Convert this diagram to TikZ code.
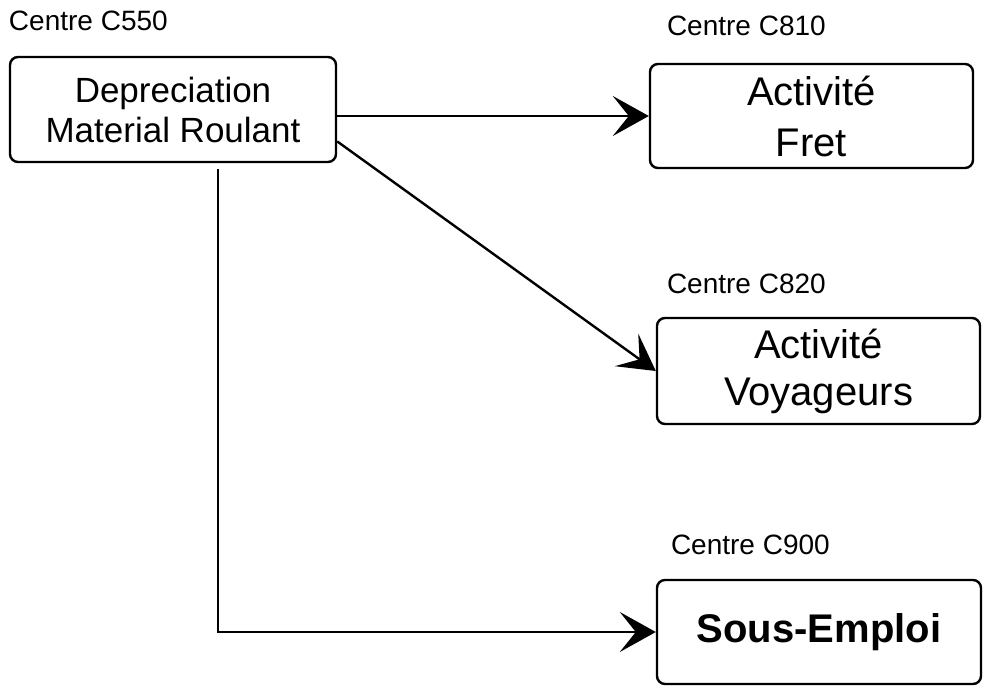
\documentclass[tikz,border=0pt]{standalone}
\usepackage{fontspec}
\setmainfont{Liberation Sans}
\usetikzlibrary{positioning}
\usetikzlibrary{arrows.meta}

\begin{document}
\begin{tikzpicture}[x=1pt, y=-1pt,
	centrebox/.style={draw, line width=2.4pt, rounded corners=8pt, align=center, inner sep=0pt},
	centrelabel/.style={inner sep=0pt, font=\fontsize{28}{32}\selectfont},
	flow/.style={line width=2.4pt, -{Stealth[length=36pt, width=40pt, inset=16pt]}}]
	\useasboundingbox (0,0) rectangle (984,688);

	% Boxes
	\node [centrebox, minimum width=326pt, minimum height=105pt, font=\fontsize{35}{40}\selectfont] at (173,109.5) (dep) {Depreciation\\Material Roulant};
	\node [centrebox, minimum width=323pt, minimum height=104pt, font=\fontsize{40}{51}\selectfont] at (811.5,116) (fret) {Activité\\Fret};
	\node [centrebox, minimum width=323pt, minimum height=106pt, font=\fontsize{40}{47}\selectfont] at (818.5,371) (voy) {Activité\\Voyageurs};
	\node [centrebox, minimum width=324pt, minimum height=104pt, font=\bfseries\fontsize{40}{48}\selectfont] at (819,632) (sous) {Sous-Emploi};

	% Centre labels
	\node [centrelabel, above right=25pt and 0pt of dep.north west] (c550) {Centre C550};
	\node [centrelabel, above right=27pt and 18pt of fret.north west] (c810) {Centre C810};
	\node [centrelabel, above right=23pt and 11pt of voy.north west] (c820) {Centre C820};
	\node [centrelabel, above right=24pt and 15pt of sous.north west] (c900) {Centre C900};

	% Connections
	\coordinate (depfoot) at ([xshift=45pt, yshift=-6pt]dep.south);
	\draw [flow] (dep.east |- fret.west) -- (fret.west);
	\draw [flow] (dep.-11) -- (voy.west);
	\draw [flow] (depfoot) |- (sous.west);
\end{tikzpicture}
\end{document}
